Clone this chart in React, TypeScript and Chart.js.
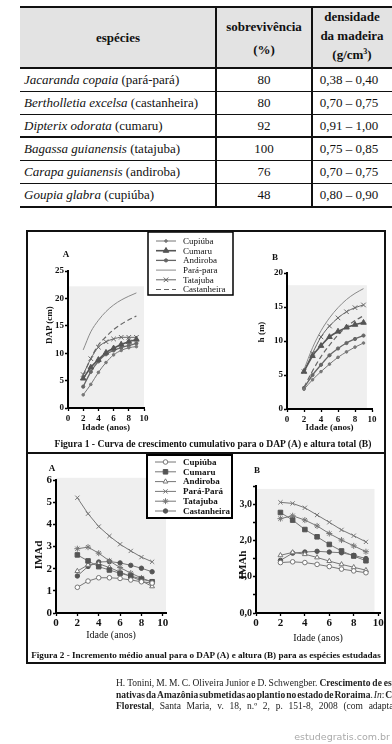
import React, { useEffect, useRef } from 'react';
import { Chart, registerables } from 'chart.js';
import { drawPoint } from 'chart.js/helpers';

Chart.register(...registerables);

// ---------------- DATA ----------------
const ages = [2, 3, 4, 5, 6, 7, 8, 9];

const fig1Species = ['Cupiúba', 'Cumaru', 'Andiroba', 'Pará-para', 'Tatajuba', 'Castanheira'];
const fig2Species = ['Cupiúba', 'Cumaru', 'Andiroba', 'Pará-Pará', 'Tatajuba', 'Castanheira'];

// Figura 1 A - DAP (cm)
const dapCupiuba = [2.4, 4.3, 6.5, 8.3, 9.7, 10.5, 11.0, 11.2];
const dapCumaru = [5.4, 7.4, 8.8, 10.1, 10.9, 11.6, 12.1, 12.5];
const dapAndiroba = [3.9, 6.6, 8.5, 9.8, 10.5, 11.0, 11.4, 11.8];
const dapParapara = [10.6, 13.9, 16.0, 17.6, 18.8, 19.7, 20.4, 21.0];
const dapTatajuba = [6.1, 9.0, 11.1, 12.1, 12.6, 12.9, 12.9, 12.9];
const dapCastanheira = [6.0, 9.0, 11.5, 13.0, 14.3, 15.3, 16.1, 16.8];

// Figura 1 B - h (m)
const hCupiuba = [2.9, 4.3, 5.5, 6.6, 7.6, 8.4, 9.1, 9.7];
const hCumaru = [5.5, 7.8, 9.3, 10.6, 11.4, 12.0, 12.4, 12.7];
const hAndiroba = [3.1, 5.0, 6.5, 7.9, 8.9, 9.7, 10.3, 10.8];
const hParapara = [5.8, 9.0, 11.5, 13.4, 14.9, 16.1, 17.0, 17.7];
const hTatajuba = [5.5, 8.2, 10.6, 12.2, 13.4, 14.3, 14.9, 15.3];
const hCastanheira = [3.2, 5.6, 7.7, 9.4, 10.9, 12.1, 13.0, 13.7];

// Figura 2 A - IMAd
const imadCupiuba = [1.16, 1.44, 1.59, 1.59, 1.56, 1.49, 1.41, 1.35];
const imadCumaru = [2.62, 2.35, 2.09, 1.94, 1.79, 1.67, 1.53, 1.41];
const imadAndiroba = [1.89, 2.17, 2.22, 2.05, 1.85, 1.65, 1.45, 1.2];
const imadParapara = [5.2, 4.48, 3.9, 3.47, 3.1, 2.8, 2.52, 2.31];
const imadTatajuba = [2.9, 2.97, 2.7, 2.35, 2.05, 1.8, 1.58, 1.4];
const imadCastanheira = [1.67, 2.1, 2.3, 2.32, 2.26, 2.15, 2.02, 1.86];

// Figura 2 B - IMAh
const imahCupiuba = [1.39, 1.41, 1.39, 1.34, 1.28, 1.21, 1.16, 1.11];
const imahCumaru = [2.77, 2.56, 2.3, 2.1, 1.89, 1.71, 1.57, 1.44];
const imahAndiroba = [1.59, 1.67, 1.62, 1.53, 1.43, 1.34, 1.26, 1.18];
const imahParapara = [3.05, 3.02, 2.9, 2.7, 2.5, 2.29, 2.13, 1.96];
const imahTatajuba = [2.6, 2.68, 2.56, 2.4, 2.19, 2.01, 1.85, 1.69];
const imahCastanheira = [1.45, 1.65, 1.68, 1.7, 1.68, 1.66, 1.59, 1.5];

// Table
const tableHeaders = ['espécies', 'sobrevivência', '(%)', 'densidade', 'da madeira', '(g/cm³)'];
const tableScientific = ['Jacaranda copaia', 'Bertholletia excelsa', 'Dipterix odorata', 'Bagassa guianensis', 'Carapa guianensis', 'Goupia glabra'];
const tableCommon = ['(pará-pará)', '(castanheira)', '(cumaru)', '(tatajuba)', '(andiroba)', '(cupiúba)'];
const tableSurvival = ['80', '80', '92', '100', '76', '48'];
const tableDensity = ['0,38 – 0,40', '0,70 – 0,75', '0,91 – 1,00', '0,75 – 0,85', '0,70 – 0,75', '0,80 – 0,90'];

// -------------- STYLES --------------
const SERIF = "'Liberation Serif', 'Times New Roman', serif";

const fig1Styles = [
  { borderColor: '#777', borderWidth: 1, pointStyle: 'circle', pointRadius: 1.3, pointBackgroundColor: '#777', pointBorderColor: '#777', pointBorderWidth: 1 },
  { borderColor: '#555', borderWidth: 1.6, pointStyle: 'triangle', pointRadius: 3.2, pointBackgroundColor: '#555', pointBorderColor: '#555', pointBorderWidth: 1 },
  { borderColor: '#666', borderWidth: 1.3, pointStyle: 'circle', pointRadius: 1.6, pointBackgroundColor: '#666', pointBorderColor: '#666', pointBorderWidth: 1 },
  { borderColor: '#8a8a8a', borderWidth: 1, pointStyle: 'circle', pointRadius: 0, pointBackgroundColor: '#888', pointBorderColor: '#888', pointBorderWidth: 1 },
  { borderColor: '#666', borderWidth: 1, pointStyle: 'crossRot', pointRadius: 3.2, pointBackgroundColor: '#666', pointBorderColor: '#666', pointBorderWidth: 1 },
  { borderColor: '#666', borderWidth: 1.2, borderDash: [5, 3], pointStyle: 'circle', pointRadius: 0, pointBackgroundColor: '#666', pointBorderColor: '#666', pointBorderWidth: 1 },
];

const fig2Styles = [
  { borderColor: '#777', borderWidth: 1, pointStyle: 'circle', pointRadius: 2.3, pointBackgroundColor: '#fff', pointBorderColor: '#777', pointBorderWidth: 1 },
  { borderColor: '#777', borderWidth: 1, pointStyle: 'rect', pointRadius: 3.2, pointBackgroundColor: '#555', pointBorderColor: '#555', pointBorderWidth: 1 },
  { borderColor: '#777', borderWidth: 1, pointStyle: 'triangle', pointRadius: 2.8, pointBackgroundColor: '#fff', pointBorderColor: '#777', pointBorderWidth: 1 },
  { borderColor: '#777', borderWidth: 1, pointStyle: 'crossRot', pointRadius: 3, pointBackgroundColor: '#777', pointBorderColor: '#777', pointBorderWidth: 1 },
  { borderColor: '#777', borderWidth: 1, pointStyle: 'star', pointRadius: 3, pointBackgroundColor: '#777', pointBorderColor: '#777', pointBorderWidth: 1 },
  { borderColor: '#777', borderWidth: 1, pointStyle: 'circle', pointRadius: 2.2, pointBackgroundColor: '#555', pointBorderColor: '#555', pointBorderWidth: 1 },
];

// -------------- PLUGINS --------------
const plotBgPlugin = {
  id: 'plotBg',
  beforeDraw(chart: any, _a: any, o: any) {
    if (!o || !o.color) return;
    const { ctx } = chart;
    const x = chart.scales.x, y = chart.scales.y;
    const x0 = x.getPixelForValue(o.xMin), x1 = x.getPixelForValue(o.xMax);
    const y0 = y.getPixelForValue(o.yMax), y1 = y.getPixelForValue(o.yMin);
    ctx.save();
    ctx.fillStyle = o.color;
    ctx.fillRect(x0, y0, x1 - x0, y1 - y0);
    ctx.restore();
  },
};

const legendBoxPlugin = {
  id: 'legendBox',
  afterDraw(chart: any, _a: any, o: any) {
    if (!o || !o.show) return;
    const ctx = chart.ctx;
    ctx.save();
    ctx.fillStyle = '#fff';
    ctx.fillRect(o.x, o.y, o.w, o.h);
    ctx.lineWidth = o.borderWidth;
    ctx.strokeStyle = '#000';
    ctx.strokeRect(o.x, o.y, o.w, o.h);
    ctx.font = o.font;
    ctx.textBaseline = 'middle';
    ctx.textAlign = 'left';
    chart.data.datasets.forEach((ds: any, i: number) => {
      const cy = o.firstY + i * o.rowH;
      ctx.save();
      ctx.strokeStyle = ds.borderColor;
      ctx.lineWidth = ds.borderWidth;
      ctx.setLineDash(ds.borderDash || []);
      ctx.beginPath();
      ctx.moveTo(o.lineX0, cy);
      ctx.lineTo(o.lineX1, cy);
      ctx.stroke();
      ctx.setLineDash([]);
      if (ds.pointRadius > 0) {
        ctx.fillStyle = ds.pointBackgroundColor;
        ctx.strokeStyle = ds.pointBorderColor;
        ctx.lineWidth = ds.pointBorderWidth;
        drawPoint(ctx, { pointStyle: ds.pointStyle, radius: ds.pointRadius, borderWidth: ds.pointBorderWidth, rotation: 0 } as any, (o.lineX0 + o.lineX1) / 2, cy);
      }
      ctx.restore();
      ctx.fillStyle = '#111';
      ctx.fillText(ds.label, o.textX, cy + 0.5);
    });
    ctx.restore();
  },
};

// -------------- CONFIG BUILDER --------------
function makeDatasets(labels: string[], series: number[][], styles: any[], tension: number) {
  return series.map((vals, i) => ({
    label: labels[i],
    data: ages.map((a, j) => ({ x: a, y: vals[j] })),
    fill: false,
    tension,
    cubicInterpolationMode: tension > 0 ? 'monotone' : 'default',
    ...styles[i],
  }));
}

function buildConfig(spec: any, datasets: any[]) {
  const c = spec.canvas, a = spec.area;
  const yW = a.left - c.left;
  const xH = c.top + c.height - a.bottom;
  const lhX = spec.x.titleFont.size * 1.2;
  return {
    type: 'line',
    data: { datasets },
    options: {
      responsive: false,
      animation: false,
      devicePixelRatio: 1,
      layout: { padding: { left: 0, top: a.top - c.top, right: c.left + c.width - a.right, bottom: 0 } },
      plugins: {
        legend: { display: false },
        tooltip: { enabled: false },
        plotBg: spec.bg,
        legendBox: spec.legend || { show: false },
      },
      scales: {
        x: {
          type: 'linear',
          position: 'bottom',
          min: spec.x.min,
          max: spec.x.max,
          ticks: {
            stepSize: spec.x.step, autoSkip: false, includeBounds: false, maxRotation: 0,
            color: '#111', font: spec.x.tickFont, padding: spec.x.tickPad,
          },
          grid: { display: true, drawOnChartArea: false, drawTicks: true, tickLength: spec.x.tickLen, tickColor: '#000', tickWidth: 1.3, color: '#000' },
          border: { display: true, color: '#000', width: spec.axisWidth },
          title: {
            display: true, text: spec.x.title, color: '#111',
            font: { ...spec.x.titleFont, lineHeight: 1.2 },
            padding: { top: 0, bottom: c.top + c.height - spec.x.titleY - lhX / 2 },
          },
          afterFit: (s: any) => { s.height = xH; },
        },
        y: {
          type: 'linear',
          position: 'left',
          min: spec.y.min,
          max: spec.y.max,
          ticks: {
            stepSize: spec.y.step, autoSkip: false, includeBounds: false,
            color: '#111', font: spec.y.tickFont, padding: spec.y.tickPad,
            callback: spec.y.callback,
          },
          grid: { display: true, drawOnChartArea: false, drawTicks: true, tickLength: spec.y.tickLen, tickColor: '#000', tickWidth: 1.3, color: '#000' },
          border: { display: true, color: '#000', width: spec.axisWidth },
          title: { display: false },
          afterFit: (s: any) => { s.width = yW; },
        },
      },
    },
    plugins: [plotBgPlugin, legendBoxPlugin],
  };
}

function ChartBox({ spec, datasets }: { spec: any; datasets: any[] }) {
  const ref = useRef<HTMLCanvasElement>(null);
  useEffect(() => {
    const chart = new Chart(ref.current as HTMLCanvasElement, buildConfig(spec, datasets) as any);
    return () => chart.destroy();
  }, []);
  const c = spec.canvas;
  return (
    <canvas
      ref={ref}
      width={c.width}
      height={c.height}
      style={{ position: 'absolute', left: c.left, top: c.top, width: c.width, height: c.height, display: 'block' }}
    />
  );
}

// -------------- CHART SPECS --------------
const f1Tick = { family: SERIF, size: 9, weight: 'bold' };
const f2Tick = { family: SERIF, size: 11, weight: 'bold' };

const spec1A = {
  canvas: { left: 28, top: 231, width: 212, height: 218 },
  area: { left: 68, right: 144, top: 271, bottom: 408 },
  axisWidth: 2,
  x: { min: 0, max: 10, step: 2, tickFont: f1Tick, tickLen: 3, tickPad: 2, title: 'Idade (anos)', titleFont: { family: SERIF, size: 9, weight: 'bold' }, titleY: 428 },
  y: { min: 0, max: 25, step: 5, tickFont: f1Tick, tickLen: 3, tickPad: 1 },
  bg: { color: '#efefef', xMin: 0, xMax: 10, yMin: 0, yMax: 22.2 },
  legend: { show: true, x: 120, y: 1, w: 85, h: 63, borderWidth: 1.5, firstY: 10, rowH: 9.7, lineX0: 128, lineX1: 148, textX: 155, font: `9px ${SERIF}` },
};

const spec1B = {
  canvas: { left: 240, top: 231, width: 150, height: 218 },
  area: { left: 287, right: 372, top: 273, bottom: 409 },
  axisWidth: 2,
  x: { min: 0, max: 10, step: 2, tickFont: f1Tick, tickLen: 3, tickPad: 2, title: 'Idade (anos)', titleFont: { family: SERIF, size: 9, weight: 'bold' }, titleY: 428 },
  y: { min: 0, max: 20, step: 5, tickFont: f1Tick, tickLen: 3, tickPad: 1 },
  bg: { color: '#efefef', xMin: 0, xMax: 9.4, yMin: 0, yMax: 18.2 },
};

const spec2A = {
  canvas: { left: 28, top: 453, width: 212, height: 192 },
  area: { left: 56, right: 166, top: 480, bottom: 613 },
  axisWidth: 2,
  x: { min: 0, max: 10.3, step: 2, tickFont: f2Tick, tickLen: 3, tickPad: 1, title: 'Idade (anos)', titleFont: { family: SERIF, size: 10, weight: 'normal' }, titleY: 635 },
  y: { min: 0, max: 6, step: 1, tickFont: f2Tick, tickLen: 3, tickPad: 1 },
  bg: { color: '#efefef', xMin: 0, xMax: 10.3, yMin: 0, yMax: 6.1 },
  legend: { show: true, x: 119, y: 2, w: 85, h: 63, borderWidth: 2, firstY: 9, rowH: 9.8, lineX0: 127, lineX1: 148, textX: 155, font: `bold 9px ${SERIF}` },
};

const spec2B = {
  canvas: { left: 225, top: 453, width: 165, height: 192 },
  area: { left: 256, right: 380, top: 486, bottom: 613 },
  axisWidth: 2,
  x: { min: 0, max: 10.15, step: 2, tickFont: f2Tick, tickLen: 3, tickPad: 1, title: 'Idade (anos)', titleFont: { family: SERIF, size: 10, weight: 'normal' }, titleY: 638 },
  y: {
    min: 0, max: 3.5, step: 0.5, tickFont: { family: SERIF, size: 10, weight: 'bold' }, tickLen: 3, tickPad: 1,
    callback: (v: any) => (Math.abs(v - Math.round(v)) < 1e-6 ? Number(v).toFixed(1).replace('.', ',') : ''),
  },
  bg: { color: '#efefef', xMin: 0, xMax: 9.7, yMin: 0, yMax: 3.42 },
};

const ds1A = makeDatasets(fig1Species, [dapCupiuba, dapCumaru, dapAndiroba, dapParapara, dapTatajuba, dapCastanheira], fig1Styles, 0.4);
const ds1B = makeDatasets(fig1Species, [hCupiuba, hCumaru, hAndiroba, hParapara, hTatajuba, hCastanheira], fig1Styles, 0.4);
const ds2A = makeDatasets(fig2Species, [imadCupiuba, imadCumaru, imadAndiroba, imadParapara, imadTatajuba, imadCastanheira], fig2Styles, 0);
const ds2B = makeDatasets(fig2Species, [imahCupiuba, imahCumaru, imahAndiroba, imahParapara, imahTatajuba, imahCastanheira], fig2Styles, 0);

// -------------- HTML PARTS --------------
const abs = (s: any) => ({ position: 'absolute' as const, ...s });

function Table() {
  const rowY = [68, 91, 114, 137, 160, 183, 207];
  const thick = [0, 3, 6];
  const txt = { fontSize: 13, fontFamily: SERIF, color: '#111', whiteSpace: 'nowrap' as const };
  return (
    <>
      <div style={abs({ left: 20, top: 8, width: 372, height: 60, background: '#e3e3e3' })} />
      <div style={abs({ left: 20, top: 6, width: 372, height: 2, background: '#111' })} />
      {rowY.map((y, i) => (
        <div key={'h' + i} style={abs({ left: 20, top: thick.includes(i) ? y - 1 : y, width: 372, height: thick.includes(i) ? 2 : 1, background: '#111' })} />
      ))}
      <div style={abs({ left: 215, top: 7, width: 2, height: 201, background: '#111' })} />
      <div style={abs({ left: 311, top: 7, width: 2, height: 201, background: '#111' })} />
      {/* headers */}
      <div style={abs({ ...txt, left: 20, width: 196, top: 30, textAlign: 'center', fontWeight: 'bold', lineHeight: '16px' })}>{tableHeaders[0]}</div>
      <div style={abs({ ...txt, left: 216, width: 96, top: 19, textAlign: 'center', fontWeight: 'bold', lineHeight: '16px' })}>{tableHeaders[1]}</div>
      <div style={abs({ ...txt, left: 216, width: 96, top: 42, textAlign: 'center', fontWeight: 'bold', lineHeight: '16px' })}>{tableHeaders[2]}</div>
      <div style={abs({ ...txt, left: 312, width: 80, top: 9, textAlign: 'center', fontWeight: 'bold', lineHeight: '16px' })}>{tableHeaders[3]}</div>
      <div style={abs({ ...txt, left: 312, width: 80, top: 28, textAlign: 'center', fontWeight: 'bold', lineHeight: '16px' })}>{tableHeaders[4]}</div>
      <div style={abs({ ...txt, left: 312, width: 80, top: 47, textAlign: 'center', fontWeight: 'bold', lineHeight: '16px' })}>
        (g/cm<sup style={{ fontSize: 8, verticalAlign: 'top', lineHeight: '10px' }}>3</sup>)
      </div>
      {tableScientific.map((s, i) => (
        <React.Fragment key={'r' + i}>
          <div style={abs({ ...txt, left: 24, top: rowY[i], height: 23, lineHeight: '23px' })}>
            <i>{s}</i> {tableCommon[i]}
          </div>
          <div style={abs({ ...txt, left: 216, width: 96, top: rowY[i], height: 23, lineHeight: '23px', textAlign: 'center' })}>{tableSurvival[i]}</div>
          <div style={abs({ ...txt, left: 312, width: 74, top: rowY[i], height: 23, lineHeight: '23px', textAlign: 'center' })}>{tableDensity[i]}</div>
        </React.Fragment>
      ))}
    </>
  );
}

function VText({ x, y, text, size, weight }: any) {
  return (
    <div style={abs({ left: x, top: y, transform: 'translate(-50%, -50%) rotate(-90deg)', fontFamily: SERIF, fontSize: size, fontWeight: weight, color: '#111', whiteSpace: 'nowrap', lineHeight: 1 })}>{text}</div>
  );
}

function Label({ x, y, text, size, weight }: any) {
  return (
    <div style={abs({ left: x, top: y, transform: 'translate(-50%, -50%)', fontFamily: SERIF, fontSize: size, fontWeight: weight, color: '#111', whiteSpace: 'nowrap', lineHeight: 1 })}>{text}</div>
  );
}

type Tok = [string, string?];
const citeLines: Tok[][] = [
  [['H.'], ['Tonini,'], ['M.'], ['M.'], ['C.'], ['Oliveira'], ['Junior'], ['e'], ['D.'], ['Schwengber.'], ['Crescimento', 'b'], ['de', 'b'], ['espécies', 'b']],
  [['nativas', 'b'], ['da', 'b'], ['Amazônia', 'b'], ['submetidas', 'b'], ['ao', 'b'], ['plantio', 'b'], ['no', 'b'], ['estado', 'b'], ['de', 'b'], ['Roraima', 'b'], ['.'], ['In', 'i'], [':'], ['Ciência', 'b']],
  [['Florestal', 'b'], [','], ['Santa'], ['Maria,'], ['v.'], ['18,'], ['n.º'], ['2,'], ['p.'], ['151-8,'], ['2008'], ['(com'], ['adaptações).']],
];

function Citation() {
  return (
    <>
      {citeLines.map((line, li) => {
        const words: { parts: Tok[] }[] = [];
        line.forEach((t) => {
          if ((t[0] === '.' || t[0] === ',' || t[0] === ':') && words.length) words[words.length - 1].parts.push(t);
          else words.push({ parts: [t] });
        });
        return (
          <div key={li} style={abs({ left: 116, top: 677 + li * 11.5, width: 300, height: 12, display: 'flex', justifyContent: 'space-between', fontFamily: SERIF, fontSize: 9.5, lineHeight: '12px', color: '#222', whiteSpace: 'nowrap' })}>
            {words.map((w, wi) => (
              <span key={wi}>
                {w.parts.map((p, pi) => (
                  <span key={pi} style={{ fontWeight: p[1] === 'b' ? 'bold' : 'normal', fontStyle: p[1] === 'i' ? 'italic' : 'normal' }}>{p[0]}</span>
                ))}
              </span>
            ))}
          </div>
        );
      })}
    </>
  );
}

export default function App() {
  return (
    <div style={abs({ left: 0, top: 0, width: 392, height: 744, overflow: 'hidden', background: '#fff', fontFamily: SERIF })}>
      <Table />

      <ChartBox spec={spec1A} datasets={ds1A} />
      <ChartBox spec={spec1B} datasets={ds1B} />
      <ChartBox spec={spec2A} datasets={ds2A} />
      <ChartBox spec={spec2B} datasets={ds2B} />

      <div style={abs({ left: 26, top: 230, width: 360, height: 434, border: '2px solid #111', boxSizing: 'border-box', pointerEvents: 'none' })} />
      <div style={abs({ left: 26, top: 452, width: 360, height: 2, background: '#111' })} />

      <Label x={66} y={254} text="A" size={9} weight="bold" />
      <Label x={275} y={257} text="B" size={9} weight="bold" />
      <Label x={52} y={468} text="A" size={9} weight="bold" />
      <Label x={257} y={470} text="B" size={9} weight="bold" />
      <VText x={49} y={325} text="DAP (cm)" size={9} weight="bold" />
      <VText x={261} y={332} text="h (m)" size={9} weight="bold" />
      <VText x={38} y={555} text="IMAd" size={11} weight="bold" />
      <VText x={242} y={565} text="IMAh" size={11} weight="bold" />

      <Label x={213} y={444} text="Figura 1 - Curva de crescimento cumulativo para o DAP (A) e altura total (B)" size={9.6} weight="bold" />
      <Label x={206} y={656} text="Figura 2 - Incremento médio anual para o DAP (A) e altura (B) para as espécies estudadas" size={9.1} weight="bold" />

      <Citation />

      <div style={abs({ right: 2, top: 731, fontFamily: "'DejaVu Sans', sans-serif", fontSize: 9.5, color: '#aaa', whiteSpace: 'nowrap', lineHeight: '12px' })}>estudegratis.com.br</div>
    </div>
  );
}
